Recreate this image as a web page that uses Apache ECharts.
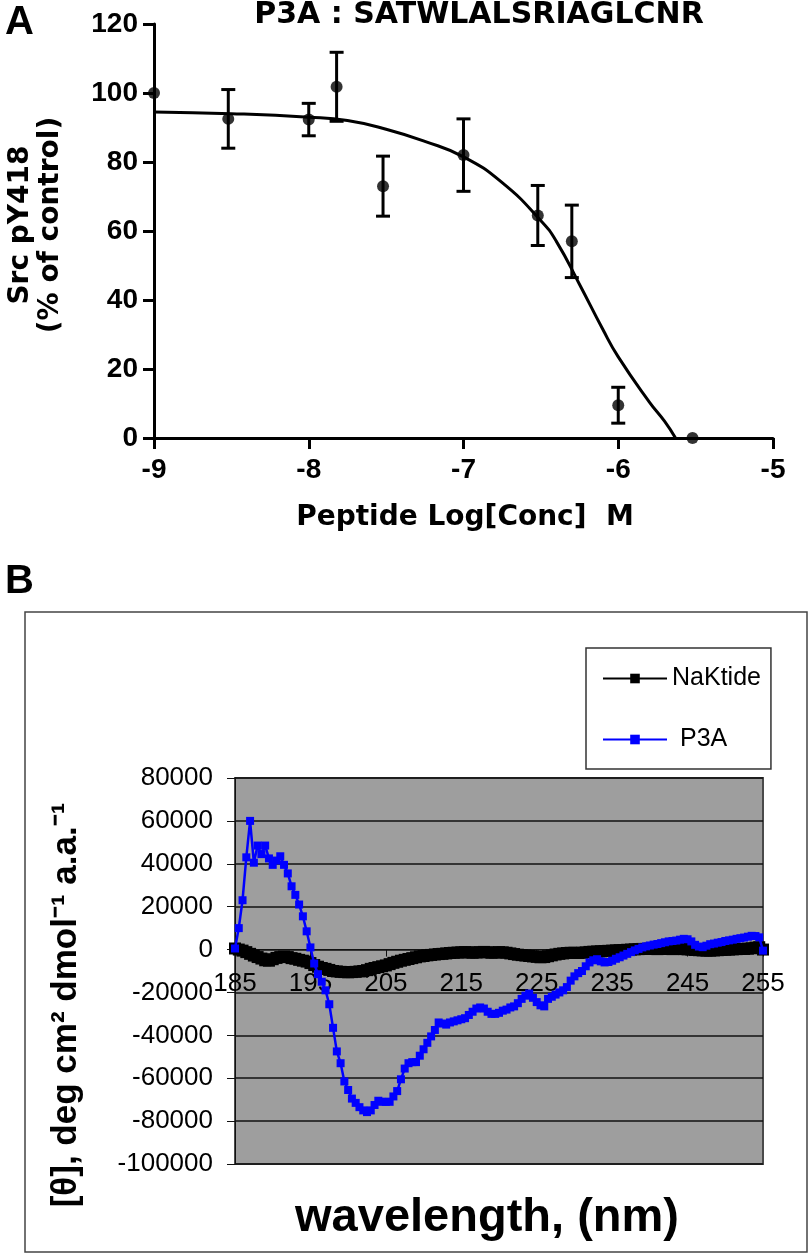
<!DOCTYPE html>
<html>
<head>
<meta charset="utf-8">
<script src="https://cdn.jsdelivr.net/npm/echarts@6/dist/echarts.min.js"></script>
<style>
html,body{margin:0;padding:0;background:#fff;}
#chart{width:810px;height:1256px;}
</style>
</head>
<body>
<div id="chart"></div>
<script>
// ---------- Panel A data ----------
const concLog   = [-9, -8.52, -8, -7.82, -7.52, -7, -6.52, -6.3, -6, -5.52];
const response  = [100, 92.5, 92.3, 101.8, 73, 82, 64.5, 57, 9.5, 0];
const respError = [0, 8.5, 4.7, 10, 8.7, 10.5, 8.7, 10.5, 5.2, 0];
const fitX = [-9, -8.5, -8, -7.75, -7.5, -7.25, -7, -6.75, -6.5, -6.4, -6.25, -6.1, -6.0, -5.8, -5.7, -5.63];
const fitY = [94.5, 94, 93, 92, 89.5, 86, 81.5, 74, 63, 57, 44.5, 31.5, 23.5, 10.5, 4.8, 0];
const xTicksA = [-9, -8, -7, -6, -5];
const yTicksA = [0, 20, 40, 60, 80, 100, 120];

// ---------- Panel B data ----------
const wavelengths = [
 185,185.5,186,186.5,187,187.5,188,188.5,189,189.5,
 190,190.5,191,191.5,192,192.5,193,193.5,194,194.5,
 195,195.5,196,196.5,197,197.5,198,198.5,199,199.5,
 200,200.5,201,201.5,202,202.5,203,203.5,204,204.5,
 205,205.5,206,206.5,207,207.5,208,208.5,209,209.5,
 210,210.5,211,211.5,212,212.5,213,213.5,214,214.5,
 215,215.5,216,216.5,217,217.5,218,218.5,219,219.5,
 220,220.5,221,221.5,222,222.5,223,223.5,224,224.5,
 225,225.5,226,226.5,227,227.5,228,228.5,229,229.5,
 230,230.5,231,231.5,232,232.5,233,233.5,234,234.5,
 235,235.5,236,236.5,237,237.5,238,238.5,239,239.5,
 240,240.5,241,241.5,242,242.5,243,243.5,244,244.5,
 245,245.5,246,246.5,247,247.5,248,248.5,249,249.5,
 250,250.5,251,251.5,252,252.5,253,253.5,254,254.5,
 255];
const p3a = [
 500, 10000, 23000, 43000, 60000, 40500, 48500, 44500, 48500, 42500,
 39500, 41500, 43500, 39500, 35500, 29500, 25500, 21000, 15500, 8500,
 1000, -6500, -11500, -15000, -19000, -25500, -36500, -47500, -53000, -61500,
 -65500, -69500, -71500, -73500, -75000, -75800, -75000, -72500, -70500, -71000,
 -71000, -71000, -68500, -66000, -60500, -55500, -53000, -52500, -52500, -49500,
 -46500, -43500, -40500, -37500, -34000, -34500, -35000, -34000, -33500, -33000,
 -32500, -32000, -30500, -29000, -27500, -27000, -27500, -29000, -30000, -30000,
 -29500, -28500, -28000, -27000, -26500, -25000, -23000, -21500, -20500, -22500,
 -24500, -26000, -26500, -23000, -22000, -21000, -20000, -19000, -17500, -14500,
 -12500, -11000, -10000, -7800, -6000, -5000, -4500, -5500, -6000, -5800,
 -5200, -4300, -3600, -2800, -2000, -1200, -400, 300, 1000, 1500,
 1900, 2300, 2600, 3000, 3400, 3800, 4000, 4200, 4600, 5000,
 4800, 3800, 2200, 1400, 1100, 1800, 2500, 2800, 3200, 3500,
 4000, 4300, 4600, 5000, 5300, 5600, 6000, 6400, 6300, 5700,
 -500];
const naktide = [
 500, 0, -500, -1200, -2000, -2800, -3500, -4200, -5000, -5200,
 -4500, -3900, -3500, -3300, -3500, -4000, -4300, -4800, -5200, -5600,
 -6300, -7200, -8000, -8600, -9000, -9500, -10000, -10200, -10400, -10500,
 -10600, -10500, -10400, -10200, -10000, -9600, -9000, -8600, -8200, -7800,
 -7400, -6800, -6200, -5700, -5200, -4800, -4400, -4000, -3600, -3200,
 -3000, -2700, -2500, -2300, -2100, -2000, -1800, -1600, -1500, -1400,
 -1300, -1200, -1300, -1500, -1400, -1200, -1100, -1300, -1500, -1400,
 -1200, -1300, -1500, -1800, -2100, -2400, -2600, -2800, -3000, -3200,
 -3400, -3600, -3500, -3100, -2700, -2300, -2000, -1800, -1600, -1500,
 -1500, -1600, -1500, -1300, -1100, -1000, -900, -800, -700, -600,
 -500, -400, -300, -200, -100, 0, 100, 200, 300, 300,
 400, 300, 200, 300, 400, 300, 200, 300, 300, 200,
 100, 0, -200, -300, -400, -500, -500, -400, -300, -200,
 -100, 0, 100, 200, 300, 300, 400, 600, 900, 1100,
 0];
const yTicksB = [-100000, -80000, -60000, -40000, -20000, 0, 20000, 40000, 60000, 80000];

// ---------- chart ----------
const chart = echarts.init(document.getElementById('chart'), null, {renderer: 'canvas'});
const tickFontA = 'Liberation Sans, Arial, sans-serif';
const wideBold = 'DejaVu Sans, Liberation Sans, sans-serif';
const fontB = 'Liberation Sans, Arial, sans-serif';

const gridBTop = 778, gridBHeight = 386;
const yMinB = -100000, yMaxB = 80000;
// x-axis of panel B crosses at value 0 (Excel style): shift axis from grid bottom to the zero line
const zeroShift = -gridBHeight * (0 - yMinB) / (yMaxB - yMinB);

const option = {
  backgroundColor: '#ffffff',
  animation: false,
  grid: [
    {left: 154, top: 24, width: 619, height: 414, containLabel: false},
    {left: 235, top: gridBTop, width: 528, height: gridBHeight, containLabel: false,
     show: true, backgroundColor: '#9e9e9e', borderColor: '#4a4a4a', borderWidth: 2}
  ],
  legend: {
    orient: 'vertical',
    left: 586, top: 648,
    padding: [18, 10, 17, 16],
    itemGap: 36,
    itemWidth: 64, itemHeight: 12,
    backgroundColor: '#ffffff',
    borderColor: '#333', borderWidth: 1.5,
    textStyle: {fontFamily: fontB, fontSize: 25, color: '#000'},
    data: [
      {name: 'NaKtide'},
      {name: 'P3A', textStyle: {padding: [0, 0, 0, 8]}}
    ]
  },
  xAxis: [
    {
      gridIndex: 0, type: 'value', min: -9, max: -5, interval: 1,
      axisLine: {show: true, onZero: false, lineStyle: {color: '#000', width: 3}},
      axisTick: {show: true, length: 11, lineStyle: {color: '#000', width: 3}},
      axisLabel: {margin: 18, color: '#000', fontFamily: tickFontA, fontWeight: 'bold', fontSize: 28,
        customValues: xTicksA},
      splitLine: {show: false}
    },
    {
      gridIndex: 1, type: 'category', data: wavelengths.map(String), boundaryGap: false,
      position: 'bottom', offset: zeroShift,
      axisLine: {show: true, onZero: false, lineStyle: {color: '#111', width: 1}},
      axisTick: {show: true, interval: 19, length: 7, inside: false, lineStyle: {color: '#111', width: 1}},
      axisLabel: {interval: 19, margin: 21, color: '#000', fontFamily: fontB, fontSize: 26},
      splitLine: {show: false}
    }
  ],
  yAxis: [
    {
      gridIndex: 0, type: 'value', min: 0, max: 120, interval: 20,
      axisLine: {show: true, lineStyle: {color: '#000', width: 3}},
      axisTick: {show: true, length: 11, lineStyle: {color: '#000', width: 3}},
      axisLabel: {margin: 16, color: '#000', fontFamily: tickFontA, fontWeight: 'bold', fontSize: 28,
        customValues: yTicksA},
      splitLine: {show: false}
    },
    {
      gridIndex: 1, type: 'value', min: yMinB, max: yMaxB, interval: 20000,
      axisLine: {show: true, onZero: false, lineStyle: {color: '#111', width: 1}},
      axisTick: {show: true, length: 8, lineStyle: {color: '#111', width: 1}},
      axisLabel: {margin: 22, color: '#000', fontFamily: fontB, fontSize: 26,
        customValues: yTicksB, formatter: v => String(v)},
      splitLine: {show: true, lineStyle: {color: '#111', width: 1.5}}
    }
  ],
  series: [
    {
      type: 'line', xAxisIndex: 0, yAxisIndex: 0, name: 'fit',
      data: fitX.map((x, i) => [x, fitY[i]]),
      smooth: 0.5, showSymbol: false, symbol: 'none',
      lineStyle: {color: '#000', width: 3}, z: 3
    },
    {
      type: 'custom', xAxisIndex: 0, yAxisIndex: 0, name: 'err',
      data: concLog.map((x, i) => [x, response[i], respError[i]]),
      renderItem: function (params, api) {
        const x = api.value(0), y = api.value(1), e = api.value(2);
        if (!e) return {type: 'group', children: []};
        const top = api.coord([x, y + e]);
        const bot = api.coord([x, y - e]);
        const hw = 7;
        const st = {stroke: '#000', lineWidth: 3};
        return {type: 'group', children: [
          {type: 'line', shape: {x1: top[0], y1: top[1], x2: bot[0], y2: bot[1]}, style: st},
          {type: 'line', shape: {x1: top[0] - hw, y1: top[1], x2: top[0] + hw, y2: top[1]}, style: st},
          {type: 'line', shape: {x1: bot[0] - hw, y1: bot[1], x2: bot[0] + hw, y2: bot[1]}, style: st}
        ]};
      },
      z: 4
    },
    {
      type: 'scatter', xAxisIndex: 0, yAxisIndex: 0, name: 'points',
      data: concLog.map((x, i) => [x, response[i]]),
      symbol: 'circle', symbolSize: 12, itemStyle: {color: '#000'}, z: 5
    },
    {
      type: 'line', xAxisIndex: 1, yAxisIndex: 1, name: 'NaKtide',
      data: naktide, symbol: 'rect', symbolSize: 12, showAllSymbol: true,
      lineStyle: {color: '#000', width: 4}, itemStyle: {color: '#000'}, z: 3
    },
    {
      type: 'line', xAxisIndex: 1, yAxisIndex: 1, name: 'P3A',
      data: p3a, symbol: 'rect', symbolSize: 8, showAllSymbol: true,
      lineStyle: {color: '#0000ff', width: 2.5}, itemStyle: {color: '#0000ff'}, z: 4
    }
  ],
  graphic: [
    {type: 'text', left: 5, top: 3, style: {text: 'A', font: 'bold 40px ' + tickFontA, fill: '#000'}},
    {type: 'text', x: 479, y: 15, style: {text: 'P3A : SATWLALSRIAGLCNR', font: 'bold 30px ' + wideBold, fill: '#000', textAlign: 'center', textVerticalAlign: 'middle'}},
    {type: 'text', x: 21, y: 225, rotation: Math.PI / 2, style: {text: 'Src pY418', font: 'bold 28px ' + wideBold, fill: '#000', textAlign: 'center', textVerticalAlign: 'middle'}},
    {type: 'text', x: 51, y: 225, rotation: Math.PI / 2, style: {text: '(% of control)', font: 'bold 28px ' + wideBold, fill: '#000', textAlign: 'center', textVerticalAlign: 'middle'}},
    {type: 'text', x: 465, y: 518, style: {text: 'Peptide Log[Conc]  M', font: 'bold 28px ' + wideBold, fill: '#000', textAlign: 'center', textVerticalAlign: 'middle'}},
    {type: 'text', left: 5, top: 562, style: {text: 'B', font: 'bold 40px ' + tickFontA, fill: '#000'}},
    {type: 'rect', shape: {x: 25, y: 612, width: 782, height: 640}, style: {fill: 'none', stroke: '#444', lineWidth: 1.5}, z: -1},
    {type: 'text', x: 66, y: 1005, rotation: Math.PI / 2, style: {text: '[\u03B8], deg cm\u00B2 dmol\u207B\u00B9 a.a.\u207B\u00B9', font: 'bold 35px ' + fontB, fill: '#000', textAlign: 'center', textVerticalAlign: 'middle'}},
    {type: 'text', x: 487, y: 1218, style: {text: 'wavelength, (nm)', font: 'bold 47px ' + fontB, fill: '#000', textAlign: 'center', textVerticalAlign: 'middle'}}
  ]
};
chart.setOption(option);
</script>
</body>
</html>
